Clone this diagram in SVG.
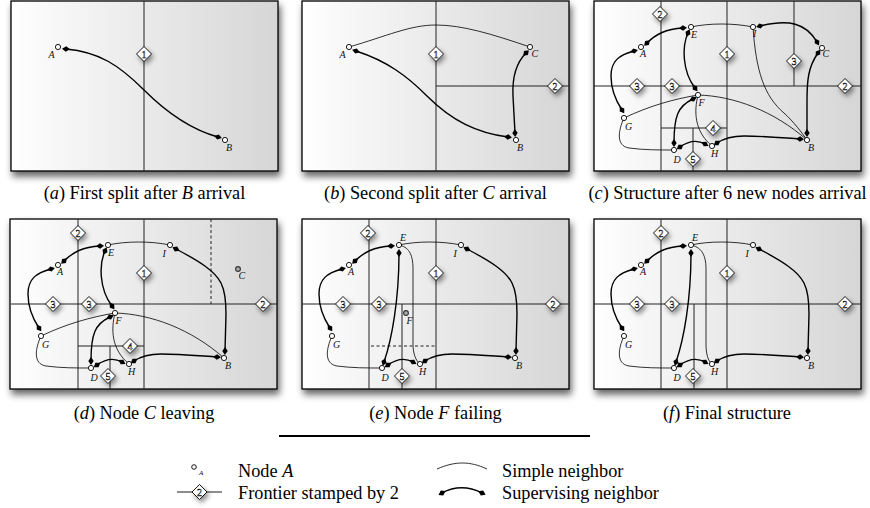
<svg xmlns="http://www.w3.org/2000/svg" xmlns:xlink="http://www.w3.org/1999/xlink" width="870" height="508" viewBox="0 0 870 508">
<defs>
<linearGradient id="bg" x1="0" y1="0" x2="1" y2="0">
<stop offset="0" stop-color="#ffffff"/>
<stop offset="0.15" stop-color="#f8f8f8"/>
<stop offset="1" stop-color="#d6d6d6"/>
</linearGradient>
<filter id="ps" x="-10%" y="-10%" width="125%" height="130%">
<feGaussianBlur in="SourceAlpha" stdDeviation="3.5"/>
<feOffset dx="2" dy="5" result="b"/>
<feFlood flood-color="#000" flood-opacity="0.6"/>
<feComposite in2="b" operator="in"/>
<feMerge><feMergeNode/><feMergeNode in="SourceGraphic"/></feMerge>
</filter>
<filter id="ds" x="-150%" y="-150%" width="400%" height="400%">
<feGaussianBlur in="SourceAlpha" stdDeviation="2.6"/>
<feOffset dx="2" dy="3" result="b"/>
<feFlood flood-color="#000" flood-opacity="0.45"/>
<feComposite in2="b" operator="in"/>
<feMerge><feMergeNode/><feMergeNode in="SourceGraphic"/></feMerge>
</filter>
<marker id="dm" viewBox="-5 -5 10 10" markerWidth="10" markerHeight="10" refX="0" refY="0" orient="auto" markerUnits="userSpaceOnUse">
<path d="M-4,0 L0,-2.7 L4,0 L0,2.7 Z" fill="#000"/>
</marker>
<polygon id="dia" points="0,-7.5 7.5,0 0,7.5 -7.5,0"/>
<style>
.frame{fill:url(#bg);stroke:#000;stroke-width:1.3}
.part{stroke:#222;stroke-width:1;fill:none}
.dash{stroke:#222;stroke-width:1;stroke-dasharray:3,2.5;fill:none}
.sim{fill:none;stroke:#000;stroke-width:0.8}
.sup{fill:none;stroke:#000;stroke-width:1.4;marker-start:url(#dm);marker-end:url(#dm)}
.nd{fill:#fff;stroke:#000;stroke-width:0.9}
.gh{fill:#aaa;stroke:#333;stroke-width:1.1}
.lbl{font-family:'Liberation Serif','DejaVu Serif','Times New Roman',serif;font-style:italic;font-size:10px;fill:#111}
.fr use{fill:#fff;stroke:#000;stroke-width:0.9;filter:url(#ds)}
.fr text{font-family:'Liberation Serif','DejaVu Serif','Times New Roman',serif;font-size:10px;text-anchor:middle;fill:#fff;stroke:#000;stroke-width:0.45}
.cap{font-family:'Liberation Serif','DejaVu Serif','Times New Roman',serif;font-size:18.3px;text-anchor:middle;fill:#000}
.leg{font-family:'Liberation Serif','DejaVu Serif','Times New Roman',serif;font-size:18.3px;fill:#000}
</style>
</defs>
<rect width="870" height="508" fill="#fff"/>

<!-- Panel a -->
<g id="panel-a" transform="translate(11,1)">
<rect class="frame" x="0" y="0" width="267" height="170" filter="url(#ps)"/>
<path class="part" d="M133,0 V170"/>
<g class="fr" transform="translate(133,53)"><use href="#dia"/><text y="3.5">1</text></g>
<g id="a-connectors">
<path class="sup" d="M55,48 C88,51 108,64 133,89 C155,111 178,128 207,136"/>
</g>
<g id="a-A"><circle class="nd" cx="47" cy="46" r="2.6"/><text class="lbl" x="37.5" y="56.5">A</text></g>
<g id="a-B"><circle class="nd" cx="214" cy="139" r="2.6"/><text class="lbl" x="215" y="149.5">B</text></g>
</g>
<text class="cap" x="144.5" y="199">(<tspan font-style="italic">a</tspan>) First split after <tspan font-style="italic">B</tspan> arrival</text>

<!-- Panel b -->
<g id="panel-b" transform="translate(302,1)">
<rect class="frame" x="0" y="0" width="267" height="170" filter="url(#ps)"/>
<path class="part" d="M134,0 V170 M134,85 H267"/>
<g class="fr" transform="translate(134,53)"><use href="#dia"/><text y="3.5">1</text></g>
<g class="fr" transform="translate(253,85)"><use href="#dia"/><text y="3.5">2</text></g>
<g id="b-connectors">
<path class="sim" d="M47,46 C85,35 108,24 134,24 C160,24 190,33 228,46"/>
<path class="sup" d="M54,50 C85,60 105,75 125,95 C150,120 175,132 206,136"/>
<path class="sup" d="M224,52 C214,62 210,75 211,95 L213,132"/>
</g>
<g id="b-A"><circle class="nd" cx="47" cy="46" r="2.6"/><text class="lbl" x="37.5" y="56.5">A</text></g>
<g id="b-C"><circle class="nd" cx="228" cy="46" r="2.6"/><text class="lbl" x="229.5" y="55.5">C</text></g>
<g id="b-B"><circle class="nd" cx="214" cy="139" r="2.6"/><text class="lbl" x="215" y="149.5">B</text></g>
</g>
<text class="cap" x="435.5" y="199">(<tspan font-style="italic">b</tspan>) Second split after <tspan font-style="italic">C</tspan> arrival</text>

<!-- Panel c -->
<g id="panel-c" transform="translate(594,1)">
<rect class="frame" x="0" y="0" width="267" height="170" filter="url(#ps)"/>
<path class="part" d="M67,0 V170 M133,0 V170 M200,0 V85 M0,85 H267 M67,127 H133 M99,127 V170"/>
<g class="fr" transform="translate(66,13)"><use href="#dia"/><text y="3.5">2</text></g>
<g class="fr" transform="translate(133,53)"><use href="#dia"/><text y="3.5">1</text></g>
<g class="fr" transform="translate(43,85)"><use href="#dia"/><text y="3.5">3</text></g>
<g class="fr" transform="translate(78,85)"><use href="#dia"/><text y="3.5">3</text></g>
<g class="fr" transform="translate(200,60)"><use href="#dia"/><text y="3.5">3</text></g>
<g class="fr" transform="translate(251,85)"><use href="#dia"/><text y="3.5">2</text></g>
<g class="fr" transform="translate(119,127)"><use href="#dia"/><text y="3.5">4</text></g>
<g class="fr" transform="translate(99,158)"><use href="#dia"/><text y="3.5">5</text></g>
<g id="c-connectors">
<path class="sup" d="M53,42 C62,33 72,28 89,27"/>
<path class="sup" d="M40,50 C25,54 17,60 17,75 C17,90 22,100 28,109"/>
<path class="sup" d="M94,32 C88,45 88,70 101,87"/>
<path class="sim" d="M97,26 C115,22 140,22 159,26"/>
<path class="sup" d="M166,25 C195,18 212,22 223,41"/>
<path class="sup" d="M224,52 C214,66 213,80 213,100 L213,132"/>
<path class="sim" d="M159,26 C162,70 170,95 190,112 C200,121 208,132 213,139"/>
<path class="sim" d="M104,94 C140,95 180,110 213,139"/>
<path class="sim" d="M30,117 C55,105 80,98 104,94"/>
<path class="sup" d="M99,98 C84,105 80,115 80,142"/>
<path class="sim" d="M104,94 C100,110 100,130 118,145"/>
<path class="sup" d="M86,146 C93,141 102,138 111,143"/>
<path class="sup" d="M123,142 C132,136 140,135 150,135 C170,135 190,137 206,138"/>
<path class="sim" d="M30,117 C24,130 22,145 35,147 C50,149 65,149 80,149"/>
</g>
<g id="c-A"><circle class="nd" cx="47" cy="46" r="2.6"/><text class="lbl" x="46" y="56">A</text></g>
<g id="c-E"><circle class="nd" cx="97" cy="26" r="2.6"/><text class="lbl" x="97" y="36.5">E</text></g>
<g id="c-F"><circle class="nd" cx="104" cy="94" r="2.6"/><text class="lbl" x="104.5" y="104.5">F</text></g>
<g id="c-G"><circle class="nd" cx="30" cy="117" r="2.6"/><text class="lbl" x="31" y="128.5">G</text></g>
<g id="c-D"><circle class="nd" cx="80" cy="149" r="2.6"/><text class="lbl" x="79.5" y="161.5">D</text></g>
<g id="c-H"><circle class="nd" cx="118" cy="145" r="2.6"/><text class="lbl" x="117" y="155.5">H</text></g>
<g id="c-I"><circle class="nd" cx="159" cy="26" r="2.6"/><text class="lbl" x="159" y="35.5">I</text></g>
<g id="c-C"><circle class="nd" cx="228" cy="47" r="2.6"/><text class="lbl" x="228.5" y="55.5">C</text></g>
<g id="c-B"><circle class="nd" cx="213" cy="139" r="2.6"/><text class="lbl" x="214" y="149.5">B</text></g>
</g>
<text class="cap" x="727.5" y="199">(<tspan font-style="italic">c</tspan>) Structure after 6 new nodes arrival</text>

<!-- Panel d -->
<g id="panel-d" transform="translate(11,219)">
<rect class="frame" x="-1" y="0" width="267" height="170" filter="url(#ps)"/>
<path class="part" d="M67,0 V170 M133,0 V170 M0,85 H266 M67,127 H133 M99,127 V170"/>
<path class="dash" d="M200,0 V85"/>
<g class="fr" transform="translate(67,14)"><use href="#dia"/><text y="3.5">2</text></g>
<g class="fr" transform="translate(133,54)"><use href="#dia"/><text y="3.5">1</text></g>
<g class="fr" transform="translate(42,85)"><use href="#dia"/><text y="3.5">3</text></g>
<g class="fr" transform="translate(78,85)"><use href="#dia"/><text y="3.5">3</text></g>
<g class="fr" transform="translate(252,85)"><use href="#dia"/><text y="3.5">2</text></g>
<g class="fr" transform="translate(119,127)"><use href="#dia"/><text y="3.5">4</text></g>
<g class="fr" transform="translate(97,157)"><use href="#dia"/><text y="3.5">5</text></g>
<g id="d-connectors">
<path class="sup" d="M53,42 C62,33 72,28 89,27"/>
<path class="sup" d="M40,50 C25,54 17,60 17,75 C17,90 22,100 28,109"/>
<path class="sup" d="M94,32 C88,45 88,70 101,87"/>
<path class="sim" d="M97,26 C115,22 140,22 159,26"/>
<path class="sup" d="M165,30 C188,42 204,52 210,64 C214,72 215,80 215,95 L214,132"/>
<path class="sim" d="M104,94 C140,95 180,110 213,139"/>
<path class="sim" d="M30,117 C55,105 80,98 104,94"/>
<path class="sup" d="M99,98 C84,105 80,115 80,142"/>
<path class="sim" d="M104,94 C100,110 100,130 118,145"/>
<path class="sup" d="M86,146 C93,141 102,138 111,143"/>
<path class="sup" d="M123,142 C132,136 140,135 150,135 C170,135 190,137 206,138"/>
<path class="sim" d="M30,117 C24,130 22,145 35,147 C50,149 65,149 80,149"/>
</g>
<g id="d-A"><circle class="nd" cx="47" cy="46" r="2.6"/><text class="lbl" x="46" y="56">A</text></g>
<g id="d-E"><circle class="nd" cx="97" cy="26" r="2.6"/><text class="lbl" x="97" y="36.5">E</text></g>
<g id="d-F"><circle class="nd" cx="104" cy="94" r="2.6"/><text class="lbl" x="104.5" y="104.5">F</text></g>
<g id="d-G"><circle class="nd" cx="30" cy="117" r="2.6"/><text class="lbl" x="31" y="128.5">G</text></g>
<g id="d-D"><circle class="nd" cx="80" cy="149" r="2.6"/><text class="lbl" x="79.5" y="161.5">D</text></g>
<g id="d-H"><circle class="nd" cx="118" cy="145" r="2.6"/><text class="lbl" x="117" y="155.5">H</text></g>
<g id="d-I"><circle class="nd" cx="159" cy="26" r="2.6"/><text class="lbl" x="151.5" y="37.5">I</text></g>
<g id="d-C"><circle class="gh" cx="227" cy="50" r="2.4"/><text class="lbl" x="227.5" y="59.5">C</text></g>
<g id="d-B"><circle class="nd" cx="213" cy="139" r="2.6"/><text class="lbl" x="214" y="149.5">B</text></g>
</g>
<text class="cap" x="144" y="419">(<tspan font-style="italic">d</tspan>) Node <tspan font-style="italic">C</tspan> leaving</text>

<!-- Panel e -->
<g id="panel-e" transform="translate(302,219)">
<rect class="frame" x="0" y="0" width="267" height="170" filter="url(#ps)"/>
<path class="part" d="M67,0 V170 M134,0 V170 M0,85 H267 M100,85 V170"/>
<path class="dash" d="M69,127 H134"/>
<g class="fr" transform="translate(66,14)"><use href="#dia"/><text y="3.5">2</text></g>
<g class="fr" transform="translate(134,54)"><use href="#dia"/><text y="3.5">1</text></g>
<g class="fr" transform="translate(41,85)"><use href="#dia"/><text y="3.5">3</text></g>
<g class="fr" transform="translate(77,85)"><use href="#dia"/><text y="3.5">3</text></g>
<g class="fr" transform="translate(251,85)"><use href="#dia"/><text y="3.5">2</text></g>
<g class="fr" transform="translate(100,157)"><use href="#dia"/><text y="3.5">5</text></g>
<g id="e-connectors">
<path class="sup" d="M53,42 C62,33 72,28 89,27"/>
<path class="sup" d="M40,50 C25,54 17,60 17,75 C17,90 22,100 28,109"/>
<path class="sim" d="M97,26 C115,22 140,22 159,26"/>
<path class="sup" d="M165,30 C188,42 204,52 210,64 C214,72 215,80 215,95 L214,132"/>
<path class="sup" d="M97,34 C97,80 90,120 82,143"/>
<path class="sim" d="M97,26 C106,28 111,34 111,50 L111,125 C111,135 114,142 118,145"/>
<path class="sup" d="M86,146 C93,141 102,138 111,143"/>
<path class="sup" d="M123,142 C132,136 140,135 150,135 C170,135 190,137 206,138"/>
<path class="sim" d="M30,117 C24,130 22,145 35,147 C50,149 65,149 80,149"/>
</g>
<g id="e-A"><circle class="nd" cx="47" cy="46" r="2.6"/><text class="lbl" x="46" y="56">A</text></g>
<g id="e-E"><circle class="nd" cx="97" cy="26" r="2.6"/><text class="lbl" x="98" y="21.5">E</text></g>
<g id="e-F"><circle class="gh" cx="104" cy="94" r="2.4"/><text class="lbl" x="104.5" y="104.5">F</text></g>
<g id="e-G"><circle class="nd" cx="30" cy="117" r="2.6"/><text class="lbl" x="31" y="128.5">G</text></g>
<g id="e-D"><circle class="nd" cx="80" cy="149" r="2.6"/><text class="lbl" x="79.5" y="161.5">D</text></g>
<g id="e-H"><circle class="nd" cx="118" cy="145" r="2.6"/><text class="lbl" x="117" y="155.5">H</text></g>
<g id="e-I"><circle class="nd" cx="159" cy="26" r="2.6"/><text class="lbl" x="151.5" y="37.5">I</text></g>
<g id="e-B"><circle class="nd" cx="213" cy="139" r="2.6"/><text class="lbl" x="214" y="149.5">B</text></g>
</g>
<text class="cap" x="435.5" y="419">(<tspan font-style="italic">e</tspan>) Node <tspan font-style="italic">F</tspan> failing</text>

<!-- Panel f -->
<g id="panel-f" transform="translate(594,219)">
<rect class="frame" x="0" y="0" width="267" height="170" filter="url(#ps)"/>
<path class="part" d="M67,0 V170 M133,0 V170 M0,85 H267 M100,85 V170"/>
<g class="fr" transform="translate(67,14)"><use href="#dia"/><text y="3.5">2</text></g>
<g class="fr" transform="translate(133,54)"><use href="#dia"/><text y="3.5">1</text></g>
<g class="fr" transform="translate(43,85)"><use href="#dia"/><text y="3.5">3</text></g>
<g class="fr" transform="translate(78,85)"><use href="#dia"/><text y="3.5">3</text></g>
<g class="fr" transform="translate(251,85)"><use href="#dia"/><text y="3.5">2</text></g>
<g class="fr" transform="translate(99,157)"><use href="#dia"/><text y="3.5">5</text></g>
<g id="f-connectors">
<path class="sup" d="M53,42 C62,33 72,28 89,27"/>
<path class="sup" d="M40,50 C25,54 17,60 17,75 C17,90 22,100 28,109"/>
<path class="sim" d="M97,26 C115,22 140,22 159,26"/>
<path class="sup" d="M165,30 C188,42 204,52 210,64 C214,72 215,80 215,95 L214,132"/>
<path class="sup" d="M97,34 C97,80 90,120 82,143"/>
<path class="sim" d="M97,26 C106,28 112,34 112,50 L112,125 C112,135 114,142 118,145"/>
<path class="sup" d="M86,146 C93,141 102,138 111,143"/>
<path class="sup" d="M123,142 C132,136 140,135 150,135 C170,135 190,137 206,138"/>
<path class="sim" d="M30,117 C24,130 22,145 35,147 C50,149 65,149 80,149"/>
</g>
<g id="f-A"><circle class="nd" cx="47" cy="46" r="2.6"/><text class="lbl" x="46" y="56">A</text></g>
<g id="f-E"><circle class="nd" cx="97" cy="26" r="2.6"/><text class="lbl" x="98" y="21.5">E</text></g>
<g id="f-G"><circle class="nd" cx="30" cy="117" r="2.6"/><text class="lbl" x="31" y="128.5">G</text></g>
<g id="f-D"><circle class="nd" cx="80" cy="149" r="2.6"/><text class="lbl" x="79.5" y="161.5">D</text></g>
<g id="f-H"><circle class="nd" cx="118" cy="145" r="2.6"/><text class="lbl" x="117" y="155.5">H</text></g>
<g id="f-I"><circle class="nd" cx="159" cy="26" r="2.6"/><text class="lbl" x="151.5" y="37.5">I</text></g>
<g id="f-B"><circle class="nd" cx="213" cy="139" r="2.6"/><text class="lbl" x="214" y="149.5">B</text></g>
</g>
<text class="cap" x="727" y="419">(<tspan font-style="italic">f</tspan>) Final structure</text>

<!-- Legend -->
<g id="legend">
<path d="M279,436 H590" stroke="#000" stroke-width="2"/>
<g id="leg-node"><circle class="nd" cx="194" cy="467" r="2.3"/><text x="199" y="475" font-family="'Liberation Serif', serif" font-style="italic" font-size="7">A</text></g>
<text class="leg" x="238" y="477">Node <tspan font-style="italic">A</tspan></text>
<g id="leg-frontier"><path d="M177,492 H222" stroke="#000" stroke-width="0.9"/>
<g class="fr" transform="translate(199.5,492)"><use href="#dia"/><text y="3.5">2</text></g></g>
<text class="leg" x="238" y="498.5">Frontier stamped by 2</text>
<path class="sim" d="M437,469 C455,461 470,461 487,469"/>
<text class="leg" x="502" y="477">Simple neighbor</text>
<path class="sup" d="M442,493 C455,486 468,486 482,493"/>
<text class="leg" x="502" y="498.5">Supervising neighbor</text>
</g>
</svg>
